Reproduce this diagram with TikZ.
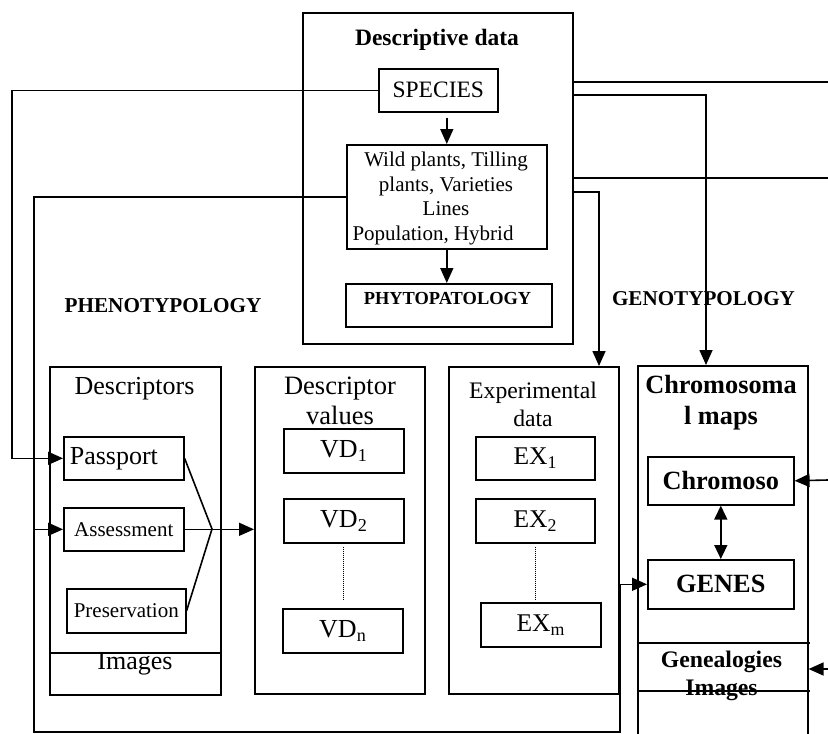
\documentclass[tikz,border=0pt]{standalone}
\usepackage{fontspec}
\setmainfont{Liberation Serif}
\usetikzlibrary{arrows.meta}

\tikzset{
  box/.style={draw, line width=1.6pt, inner sep=0pt, anchor=north west},
  link/.style={line width=1.6pt},
  arr/.style={line width=1.6pt, -{Triangle[length=15pt,width=13pt]}},
  darr/.style={line width=1.6pt, {Triangle[length=14pt,width=13pt]}-{Triangle[length=14pt,width=13pt]}},
  dots/.style={line width=1pt, densely dotted},
}

\begin{document}
\begin{tikzpicture}[x=1pt, y=-1pt]
        \useasboundingbox (0,0) rectangle (828,734);
        % descriptive data block
        \node[box, minimum width=270pt, minimum height=331pt] (desc) at (302,12) {};
        \node[anchor=base, font=\bfseries\fontsize{23.5}{27}\selectfont] (desctitle) at (437,45) {Descriptive data};
        \node[box, minimum width=119pt, minimum height=43pt, font=\fontsize{23.5}{27}\selectfont] (species) at (378,68) {SPECIES};
        \node[box, minimum width=200pt, minimum height=104pt] (wild) at (346,144) {};
        \node[anchor=base, align=center, font=\fontsize{21}{24.4}\selectfont] (wildtext) at (446,240) {Wild plants, Tilling\\plants, Varieties\\Lines\\Population, Hybrid\hspace*{26pt}};
        \node[box, minimum width=206pt, minimum height=43pt] (phyto) at (345,283) {};
        \node[anchor=base, font=\bfseries\fontsize{18.4}{22}\selectfont] (phytotext) at (447.5,304) {PHYTOPATOLOGY};
        \draw[arr, shorten <=5pt] (wild.north |- species.south) -- (wild.north);
        \draw[arr] (wild.south) -- (wild.south |- phyto.north);

        \node[anchor=base, font=\bfseries\fontsize{21.2}{25}\selectfont] (pheno) at (163,312) {PHENOTYPOLOGY};
        \node[anchor=base, font=\bfseries\fontsize{21.1}{25}\selectfont] (geno) at (703.5,305) {GENOTYPOLOGY};

        % descriptors
        \node[box, minimum width=171pt, minimum height=328pt] (descr) at (49,366) {};
        \node[anchor=base, font=\fontsize{26}{30}\selectfont] (descrtitle) at (134.5,394) {Descriptors};
        \draw[link] (descr.west |- 0,653) -- (descr.east |- 0,653);
        \node[anchor=base, font=\fontsize{26}{30}\selectfont] (descrimg) at (135,669) {Images};
        \node[box, minimum width=120pt, minimum height=43pt, inner xsep=6pt, text width=108pt, font=\fontsize{26}{30}\selectfont] (passport) at (63,436) {Passport};
        \node[box, minimum width=120pt, minimum height=43pt, font=\fontsize{21}{25}\selectfont] (assess) at (63,507) {Assessment};
        \node[box, minimum width=119pt, minimum height=44pt, font=\fontsize{21}{25}\selectfont] (preserv) at (66,588) {Preservation};

        % descriptor values
        \node[box, minimum width=170pt, minimum height=327pt] (dvals) at (254,366) {};
        \node[anchor=base, align=center, font=\fontsize{26.5}{30}\selectfont] (dvalstitle) at (340,424) {Descriptor\\values};
        \node[box, minimum width=120pt, minimum height=44pt, font=\fontsize{26}{30}\selectfont] (vd1) at (283,428) {VD\textsubscript{1}};
        \node[box, minimum width=120pt, minimum height=44pt, font=\fontsize{26}{30}\selectfont] (vd2) at (283,498) {VD\textsubscript{2}};
        \node[box, minimum width=120pt, minimum height=44pt, font=\fontsize{26}{30}\selectfont] (vdn) at (282,608) {VD\textsubscript{n}};
        \draw[dots, shorten <=3pt, shorten >=9pt] (vd2.south) -- (vd2.south |- vdn.north);

        % experimental data
        \node[box, minimum width=170pt, minimum height=327pt] (exper) at (448,366) {};
        \node[anchor=base, align=center, font=\fontsize{23.7}{28}\selectfont] (expertitle) at (533,426) {Experimental\\data};
        \node[box, minimum width=119pt, minimum height=43pt, font=\fontsize{25.5}{30}\selectfont] (ex1) at (475,436) {EX\textsubscript{1}};
        \node[box, minimum width=119pt, minimum height=44pt, font=\fontsize{25.5}{30}\selectfont] (ex2) at (475,498) {EX\textsubscript{2}};
        \node[box, minimum width=120pt, minimum height=44pt, font=\fontsize{25.5}{30}\selectfont] (exm) at (480,602) {EX\textsubscript{m}};
        \draw[dots, shorten <=3pt, shorten >=3pt] (ex2.south) -- (ex2.south |- exm.north);

        % chromosomal maps
        \node[box, minimum width=170pt, minimum height=380pt] (chrom) at (637,365) {};
        \node[anchor=base, align=center, font=\bfseries\fontsize{26.3}{31}\selectfont] (chromtitle) at (721,424) {Chromosoma\\l maps};
        \node[box, minimum width=146pt, minimum height=48pt, font=\bfseries\fontsize{26.3}{31}\selectfont] (chromoso) at (647,456) {Chromoso};
        \node[box, minimum width=146pt, minimum height=49pt, font=\bfseries\fontsize{26.3}{31}\selectfont] (genes) at (647,559) {GENES};
        \draw[darr] (chromoso.south) -- (genes.north);
        \draw[link] (chrom.west |- 0,643) -- (810,643);
        \node[anchor=base, align=center, font=\bfseries\fontsize{23.7}{28}\selectfont] (genea) at (721.5,695) {Genealogies\\Images};
        \draw[link] (chrom.west |- 0,691) -- (810,691);

        % connectors
        \coordinate (busL) at (34,732);
        \coordinate (busR) at (620,732);
        \coordinate (fan) at (212,529);
        \coordinate (outA) at (828,82);
        \coordinate (kA) at (706,95);
        \coordinate (outB) at (828,178);
        \coordinate (kB) at (599,192);
        \coordinate (inA) at (828,480);
        \coordinate (inB) at (828,669);
        \draw[arr] (species.west) -| (12,300) |- (passport.west);
        \draw[arr] (wild.west) -| (busL) -- (busR) |- (genes.west);
        \draw[arr] (assess.west -| busL) -- (assess.west);
        \draw[link] (passport.east) -- (fan) -- (preserv.east);
        \draw[arr] (assess.east) -- (assess.east -| dvals.west);
        \draw[link] (outA -| desc.east) -- (outA);
        \draw[arr] (kA -| desc.east) -- (kA) -- (kA |- chrom.north);
        \draw[link] (outB -| desc.east) -- (outB);
        \draw[arr] (kB -| desc.east) -- (kB) -- (kB |- exper.north);
        \draw[arr] (inA) -- (chromoso.east);
        \draw[arr] (inB) -- (inB -| chrom.east);
    \end{tikzpicture}
\end{document}
